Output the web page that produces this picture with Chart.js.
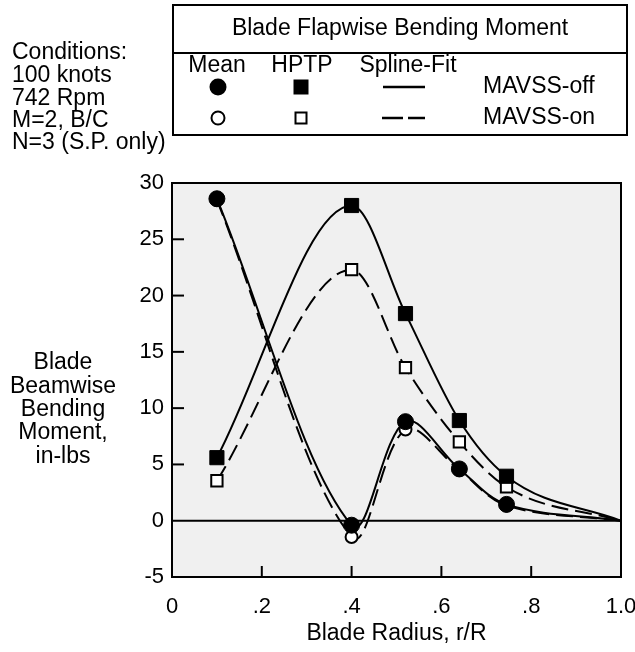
<!DOCTYPE html>
<html><head><meta charset="utf-8">
<script src="https://cdn.jsdelivr.net/npm/chart.js@4/dist/chart.umd.min.js"></script>
<style>html,body{margin:0;padding:0;background:#fff}canvas{display:block}</style>
</head><body>
<canvas id="c" width="635" height="652"></canvas>
<script>
// ---- data ----
const radiusRatio = [0.1, 0.4, 0.52, 0.64, 0.745];
const meanOff = [28.6, -0.4, 8.8, 4.6, 1.45];
const meanOn  = [28.5, -1.45, 8.1, 4.5, 1.35];
const hptpOff = [5.6, 28.0, 18.4, 8.9, 3.95];
const hptpOn  = [3.55, 22.3, 13.6, 7.0, 3.0];
const tipRadius = 1.0;   // spline fits end at the blade tip
const tipValue = 0;
const xTickLabels = ['0', '.2', '.4', '.6', '.8', '1.0'];
const yTickMin = -5, yTickMax = 30, yTickStep = 5;
const xTitle = 'Blade Radius, r/R';
const yTitleLines = ['Blade', 'Beamwise', 'Bending', 'Moment,', 'in-lbs'];
const conditionsLines = ['Conditions:', '100 knots', '742 Rpm', 'M=2, B/C', 'N=3 (S.P. only)'];
const legendTitle = 'Blade Flapwise Bending Moment';
const legendHeaders = ['Mean', 'HPTP', 'Spline-Fit'];
const legendRows = ['MAVSS-off', 'MAVSS-on'];

const FONT = '"Liberation Sans", Arial, Helvetica, sans-serif';
const pts = (ys) => radiusRatio.map((x, i) => ({x, y: ys[i]}));
const fit = (ys) => pts(ys).concat([{x: tipRadius, y: tipValue}]);

const datasets = [
  {label: 'Mean MAVSS-off', data: pts(meanOff), showLine: false, pointStyle: 'circle', pointRadius: 8, pointBackgroundColor: '#000', pointBorderColor: '#000', pointBorderWidth: 1, clip: false},
  {label: 'Mean MAVSS-on', data: pts(meanOn), showLine: false, pointStyle: 'circle', pointRadius: 6, pointBackgroundColor: '#fff', pointBorderColor: '#000', pointBorderWidth: 2, clip: false},
  {label: 'HPTP MAVSS-off', data: pts(hptpOff), showLine: false, pointStyle: 'rect', pointRadius: 10, pointBackgroundColor: '#000', pointBorderColor: '#000', pointBorderWidth: 1, clip: false},
  {label: 'HPTP MAVSS-on', data: pts(hptpOn), showLine: false, pointStyle: 'rect', pointRadius: 8, pointBackgroundColor: '#fff', pointBorderColor: '#000', pointBorderWidth: 2, clip: false},
  {label: 'Mean fit off', data: fit(meanOff), showLine: true, pointRadius: 0, borderColor: '#000', borderWidth: 2, tension: 0.35},
  {label: 'Mean fit on', data: fit(meanOn), showLine: true, pointRadius: 0, borderColor: '#000', borderWidth: 2, borderDash: [17, 7], tension: 0.35},
  {label: 'HPTP fit off', data: fit(hptpOff), showLine: true, pointRadius: 0, borderColor: '#000', borderWidth: 2, cubicInterpolationMode: 'monotone'},
  {label: 'HPTP fit on', data: fit(hptpOn), showLine: true, pointRadius: 0, borderColor: '#000', borderWidth: 2, borderDash: [17, 7], cubicInterpolationMode: 'monotone'}
];

const decor = {
  id: 'decor',
  beforeDraw(chart) {
    const {ctx, chartArea: a} = chart;
    ctx.save();
    ctx.fillStyle = '#f0f0f0';
    ctx.fillRect(a.left, a.top, a.right - a.left, a.bottom - a.top);
    ctx.restore();
  },
  beforeDatasetsDraw(chart) {
    const {ctx, chartArea: a, scales: {x, y}} = chart;
    ctx.save();
    ctx.strokeStyle = '#000';
    ctx.lineWidth = 2;
    const y0 = y.getPixelForValue(0);
    ctx.beginPath(); ctx.moveTo(a.left, y0); ctx.lineTo(a.right, y0); ctx.stroke();
    y.ticks.forEach(t => {
      if (t.value <= yTickMin || t.value >= yTickMax || t.value === 0) return;
      const py = y.getPixelForValue(t.value);
      ctx.beginPath(); ctx.moveTo(a.left, py); ctx.lineTo(a.left + 12, py); ctx.stroke();
    });
    x.ticks.forEach(t => {
      if (t.value <= 0.001 || t.value >= 0.999) return;
      const px = x.getPixelForValue(t.value);
      ctx.beginPath(); ctx.moveTo(px, a.bottom); ctx.lineTo(px, a.bottom - 11); ctx.stroke();
    });
    ctx.restore();
  },
  afterDraw(chart) {
    const {ctx, chartArea: a} = chart;
    ctx.save();
    ctx.strokeStyle = '#000';
    ctx.fillStyle = '#000';
    ctx.lineWidth = 2;
    ctx.strokeRect(a.left, a.top, a.right - a.left, a.bottom - a.top);

    ctx.font = '23px ' + FONT;
    ctx.textBaseline = 'middle';
    ctx.textAlign = 'left';
    const condY = [53, 76, 99, 121, 143];
    conditionsLines.forEach((s, i) => ctx.fillText(s, 12, condY[i]));
    ctx.textAlign = 'center';
    const yt = [363, 387, 410, 433, 457];
    yTitleLines.forEach((s, i) => ctx.fillText(s, 63, yt[i]));

    // legend box
    ctx.lineWidth = 2;
    ctx.strokeRect(173, 5, 454, 130);
    ctx.beginPath(); ctx.moveTo(173, 53); ctx.lineTo(627, 53); ctx.stroke();
    ctx.textAlign = 'center';
    ctx.fillText(legendTitle, 400, 29);
    const hx = [217, 302, 408];
    legendHeaders.forEach((s, i) => ctx.fillText(s, hx[i], 66));
    const r1 = 87, r2 = 118;
    ctx.beginPath(); ctx.arc(218, r1, 8.5, 0, Math.PI * 2); ctx.fill();
    ctx.fillRect(301 - 7.5, r1 - 7.5, 15, 15);
    ctx.lineWidth = 2.5;
    ctx.beginPath(); ctx.moveTo(383, r1); ctx.lineTo(425, r1); ctx.stroke();
    ctx.lineWidth = 2;
    ctx.fillStyle = '#fff';
    ctx.beginPath(); ctx.arc(218, r2, 6.5, 0, Math.PI * 2); ctx.fill(); ctx.stroke();
    ctx.fillRect(301 - 5.5, r2 - 5.5, 11, 11); ctx.strokeRect(301 - 5.5, r2 - 5.5, 11, 11);
    ctx.fillStyle = '#000';
    ctx.lineWidth = 2.5;
    ctx.beginPath(); ctx.moveTo(382, r2); ctx.lineTo(403, r2); ctx.moveTo(408, r2); ctx.lineTo(425, r2); ctx.stroke();
    ctx.textAlign = 'left';
    ctx.fillText(legendRows[0], 483, r1);
    ctx.fillText(legendRows[1], 483, r2);
    ctx.restore();
  }
};

new Chart(document.getElementById('c'), {
  type: 'scatter',
  data: {datasets},
  options: {
    responsive: false,
    animation: false,
    events: [],
    layout: {padding: {top: 183, right: 14, bottom: 0, left: 0}},
    plugins: {legend: {display: false}, tooltip: {enabled: false}},
    scales: {
      x: {
        type: 'linear', min: 0, max: 1,
        grid: {display: false, drawTicks: false},
        border: {display: false},
        ticks: {stepSize: 0.2, padding: 17, color: '#000', font: {family: FONT, size: 22},
          callback: (v) => xTickLabels[Math.round(v / 0.2)], maxRotation: 0},
        title: {display: true, text: xTitle, color: '#000', font: {family: FONT, size: 23}, padding: {top: 0, bottom: 5}},
        afterFit: (s) => { s.height = 75; s.paddingLeft = 0; s.paddingRight = 0; }
      },
      y: {
        type: 'linear', min: yTickMin, max: yTickMax,
        grid: {display: false, drawTicks: false},
        border: {display: false},
        ticks: {stepSize: yTickStep, padding: 8, color: '#000', font: {family: FONT, size: 22}},
        afterFit: (s) => { s.width = 172; s.paddingTop = 0; s.paddingBottom = 0; }
      }
    }
  },
  plugins: [decor]
});
</script>
</body></html>
